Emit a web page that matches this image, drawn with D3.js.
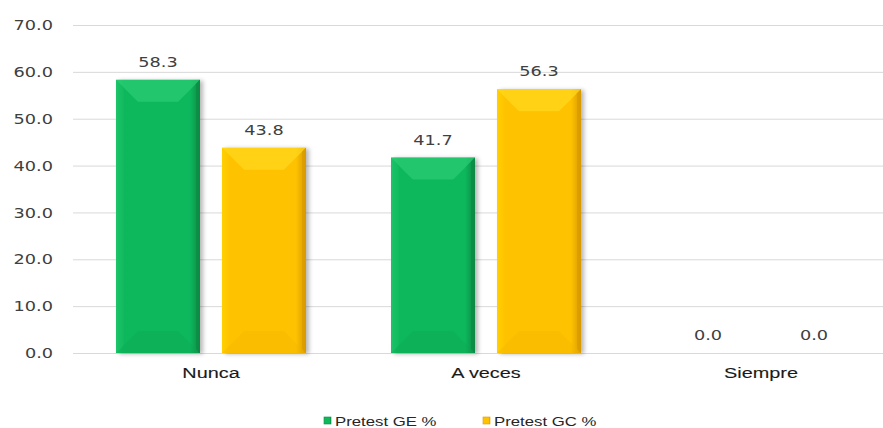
<!DOCTYPE html>
<html><head><meta charset="utf-8">
<script src="https://cdn.jsdelivr.net/npm/d3@7"></script>
<style>body{margin:0;background:#fff;}svg{display:block;}</style>
</head><body>
<script>
const categories = ["Nunca", "A veces", "Siempre"];
const seriesNames = ["Pretest GE %", "Pretest GC %"];
const seriesGE = [58.3, 41.7, 0.0];
const seriesGC = [43.8, 56.3, 0.0];
const yTicks = [0, 10, 20, 30, 40, 50, 60, 70];

const W = 883, H = 428;
const svg = d3.select("body").append("svg").attr("width", W).attr("height", H);
const defs = svg.append("defs");

const x = d3.scaleBand().domain(categories).range([73.5, 898.5]);
const groupW = 190;
const xi = d3.scaleBand().domain([0, 1]).range([0, groupW]).paddingInner(22 / 106);
const y = d3.scaleLinear().domain([0, 70]).range([353, 25]);

function stretch(sel, f) {
  sel.each(function () {
    const len = this.getComputedTextLength();
    d3.select(this).attr("textLength", len * f).attr("lengthAdjust", "spacingAndGlyphs");
  });
}

const shades = [
  {id: "g0", edgeL: "#1cc46a", mid: "#10b85c", edgeR: "#078a44", top: "#2ccd75", bot: "#0aa552"},
  {id: "g1", edgeL: "#ffd000", mid: "#ffc200", edgeR: "#d99a00", top: "#ffd820", bot: "#f0b400"}
];
shades.forEach(s => {
  const g = defs.append("linearGradient").attr("id", s.id).attr("x1", 0).attr("x2", 1).attr("y1", 0).attr("y2", 0);
  g.append("stop").attr("offset", "0%").attr("stop-color", s.edgeL);
  g.append("stop").attr("offset", "10%").attr("stop-color", s.mid);
  g.append("stop").attr("offset", "88%").attr("stop-color", s.mid);
  g.append("stop").attr("offset", "100%").attr("stop-color", s.edgeR);
});
const sh = defs.append("filter").attr("id", "shadow").attr("x", "-20%").attr("y", "-10%").attr("width", "150%").attr("height", "130%");
sh.append("feDropShadow").attr("dx", 3).attr("dy", 1).attr("stdDeviation", 2).attr("flood-color", "#000").attr("flood-opacity", 0.28);

// gridlines
svg.append("g").selectAll("line").data(yTicks).join("line")
  .attr("x1", 73).attr("x2", W).attr("y1", d => y(d) + 0.5).attr("y2", d => y(d) + 0.5)
  .attr("stroke", "#d9d9d9").attr("stroke-width", 1);

const numFont = "Verdana, 'DejaVu Sans', sans-serif";

// y axis labels
const yAxis = d3.axisLeft(y).tickValues(yTicks).tickFormat(d3.format(".1f")).tickSize(0).tickPadding(0);
const ya = svg.append("g").attr("transform", "translate(53,0)").call(yAxis);
ya.select(".domain").remove();
ya.selectAll("text").attr("font-family", numFont).attr("font-size", 14.5).attr("fill", "#404040").call(stretch, 1.22);

// x axis labels
const xAxis = d3.axisBottom(x).tickSize(0).tickPadding(0);
const xa = svg.append("g").attr("transform", "translate(0,367)").call(xAxis);
xa.select(".domain").remove();
xa.selectAll("text").attr("font-family", "Arial, 'Liberation Sans', sans-serif").attr("font-size", 15.5)
  .attr("fill", "#1a1a1a").attr("stroke", "#1a1a1a").attr("stroke-width", 0.12).attr("dy", "0.71em").call(stretch, 1.28);

const series = [seriesGE, seriesGC];
const groupOffset = (x.bandwidth() - groupW) / 2;

series.forEach((vals, si) => {
  const g = svg.append("g");
  const s = shades[si];
  categories.forEach((c, ci) => {
    const v = vals[ci];
    const bx = x(c) + groupOffset + xi(si);
    const bw = xi.bandwidth();
    const by = y(v), bh = y(0) - y(v);
    if (bh > 0) {
      const bar = g.append("g").attr("filter", "url(#shadow)");
      bar.append("rect").attr("x", bx).attr("y", by).attr("width", bw).attr("height", bh).attr("fill", `url(#${s.id})`);
      const bev = Math.min(22, bh / 2);
      bar.append("path").attr("d", `M${bx},${by}L${bx + bw},${by}L${bx + bw - bev},${by + bev}L${bx + bev},${by + bev}Z`)
        .attr("fill", s.top).attr("opacity", 0.7);
      bar.append("path").attr("d", `M${bx},${by + bh}L${bx + bw},${by + bh}L${bx + bw - bev},${by + bh - bev}L${bx + bev},${by + bh - bev}Z`)
        .attr("fill", s.bot).attr("opacity", 0.35);
      bar.append("path").attr("d", `M${bx + bw},${by}L${bx + bw},${by + bh}L${bx + bw - 4},${by + bh - 4}L${bx + bw - 4},${by + 4}Z`)
        .attr("fill", s.edgeR).attr("opacity", 0.7);
    }
    g.append("text").attr("x", bx + bw / 2).attr("y", by - 13)
      .attr("text-anchor", "middle").attr("font-family", numFont)
      .attr("font-size", 14.5).attr("fill", "#404040").text(d3.format(".1f")(v)).call(stretch, 1.22);
  });
});

// legend
const legend = svg.append("g").attr("font-family", "Arial, 'Liberation Sans', sans-serif").attr("font-size", 13.5).attr("fill", "#262626");
const legX = [324, 483];
seriesNames.forEach((n, i) => {
  legend.append("rect").attr("x", legX[i]).attr("y", 417).attr("width", 7).attr("height", 7)
    .attr("fill", `url(#${shades[i].id})`).attr("stroke", shades[i].edgeR).attr("stroke-width", 0.6);
  legend.append("text").attr("x", legX[i] + 11).attr("y", 426).text(n).call(stretch, 1.24);
});
</script>
</body></html>
